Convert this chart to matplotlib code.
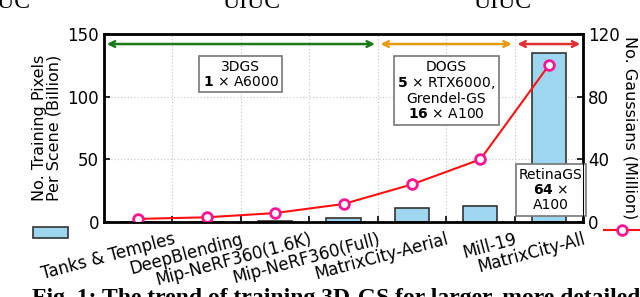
import matplotlib.pyplot as plt
import numpy as np
from matplotlib.lines import Line2D

# data
scenes = ['Tanks & Temples', 'DeepBlending', 'Mip-NeRF360(1.6K)', 'Mip-NeRF360(Full)',
          'MatrixCity-Aerial', 'Mill-19', 'MatrixCity-All']
pixels_billion = [0.2, 0.3, 0.5, 3.0, 11.5, 13.0, 135.0]
gaussians_million = [2.0, 3.0, 5.7, 11.5, 24.0, 40.0, 100.0]

bar_color = '#9dd6ee'
line_color = '#ff1010'
marker_edge = '#ff1493'

plt.rcParams['font.family'] = ['DejaVu Sans']

fig = plt.figure(figsize=(6.4, 2.97), dpi=100)
ax = fig.add_axes([0.1625, 0.2525, 0.7485, 0.633])
x = np.arange(len(scenes))

bars = ax.bar(x, pixels_billion, width=0.5, color=bar_color, edgecolor='#333333',
              linewidth=1.2, zorder=2)
ax.set_xlim(-0.5, len(scenes) - 0.5)
ax.set_ylim(0, 150)
ax.set_yticks([0, 50, 100, 150])
ax.set_xticks(x + 0.5)
ax.set_xticklabels(scenes, rotation=15, ha='right', rotation_mode='anchor', fontsize=12)
ax.tick_params(axis='both', direction='in', labelsize=12, width=1.2, length=4)
ax.tick_params(axis='x', pad=6)
ax.grid(True, linestyle=':', color='#cccccc', linewidth=0.9, zorder=0)
ax.set_axisbelow(True)
ax.set_ylabel('No. Training Pixels\nPer Scene (Billion)', fontsize=11.5, labelpad=4,
              linespacing=1.0)
for spine in ['left', 'right', 'top', 'bottom']:
    ax.spines[spine].set_linewidth(2)

# range arrows
ax.annotate('', xy=(3.5, 142), xytext=(-0.5, 142),
            arrowprops=dict(arrowstyle='<->', color='#1a7a1a', lw=1.8, shrinkA=2, shrinkB=2))
ax.annotate('', xy=(5.5, 142), xytext=(3.5, 142),
            arrowprops=dict(arrowstyle='<->', color='#e59a10', lw=1.8, shrinkA=2, shrinkB=2))
ax.annotate('', xy=(6.5, 142), xytext=(5.5, 142),
            arrowprops=dict(arrowstyle='<->', color='#dd3030', lw=1.8, shrinkA=2, shrinkB=2))

box = dict(boxstyle='square,pad=0.25', facecolor='white', edgecolor='#777777', linewidth=1.2)
ax.text(1.5, 118, '3DGS\n$\\mathbf{1}$ × A6000', ha='center', va='center', fontsize=10,
        linespacing=1.1, bbox=box, zorder=5)
ax.text(4.5, 105, 'DOGS\n$\\mathbf{5}$ × RTX6000,\nGrendel-GS\n$\\mathbf{16}$ × A100',
        ha='center', va='center', fontsize=10, linespacing=1.1, bbox=box, zorder=5)
ax.text(6.03, 25.5, 'RetinaGS\n$\\mathbf{64}$ ×\nA100', ha='center', va='center', fontsize=10,
        linespacing=1.1, bbox=box, zorder=5)

ax2 = ax.twinx()
line, = ax2.plot(x, gaussians_million, color=line_color, linewidth=1.5, marker='o',
                 markersize=7, markerfacecolor='white', markeredgecolor=marker_edge,
                 markeredgewidth=2)
ax2.set_ylim(0, 120)
ax2.set_yticks([0, 40, 80, 120])
ax2.tick_params(axis='y', direction='in', labelsize=12, width=1.2, length=4)
ax2.set_ylabel('No. Gaussians (Million)', fontsize=11.5, rotation=270, labelpad=13)

# legend keys under the axis labels
leg1 = fig.legend([bars], [''], loc='center left', bbox_to_anchor=(0.052, 0.215),
                  frameon=False, handlelength=2.5, handleheight=0.9, borderpad=0,
                  borderaxespad=0, handletextpad=0, fontsize=10)
leg2 = fig.legend([Line2D([0], [0], color=line_color, linewidth=1.5, marker='o',
                          markersize=7, markerfacecolor='white', markeredgecolor=marker_edge,
                          markeredgewidth=2)],
                  [''], loc='center left', bbox_to_anchor=(0.943, 0.222), frameon=False,
                  handlelength=2.6, borderpad=0, borderaxespad=0, handletextpad=0, fontsize=10)

# clipped page text around the figure
serif = ['Liberation Serif', 'DejaVu Serif']
for xpos, ha in [(30 / 640, 'right'), (222 / 640, 'left'), (473 / 640, 'left')]:
    fig.text(xpos, 0.972, 'UIUC', ha=ha, va='baseline', fontsize=17, family=serif)
fig.text(32 / 640, -0.025, 'Fig. 1: The trend of training 3D-GS for larger, more detailed',
         ha='left', va='baseline', fontsize=17, fontweight='bold', family=serif)

fig.savefig('out.png', dpi=100)
